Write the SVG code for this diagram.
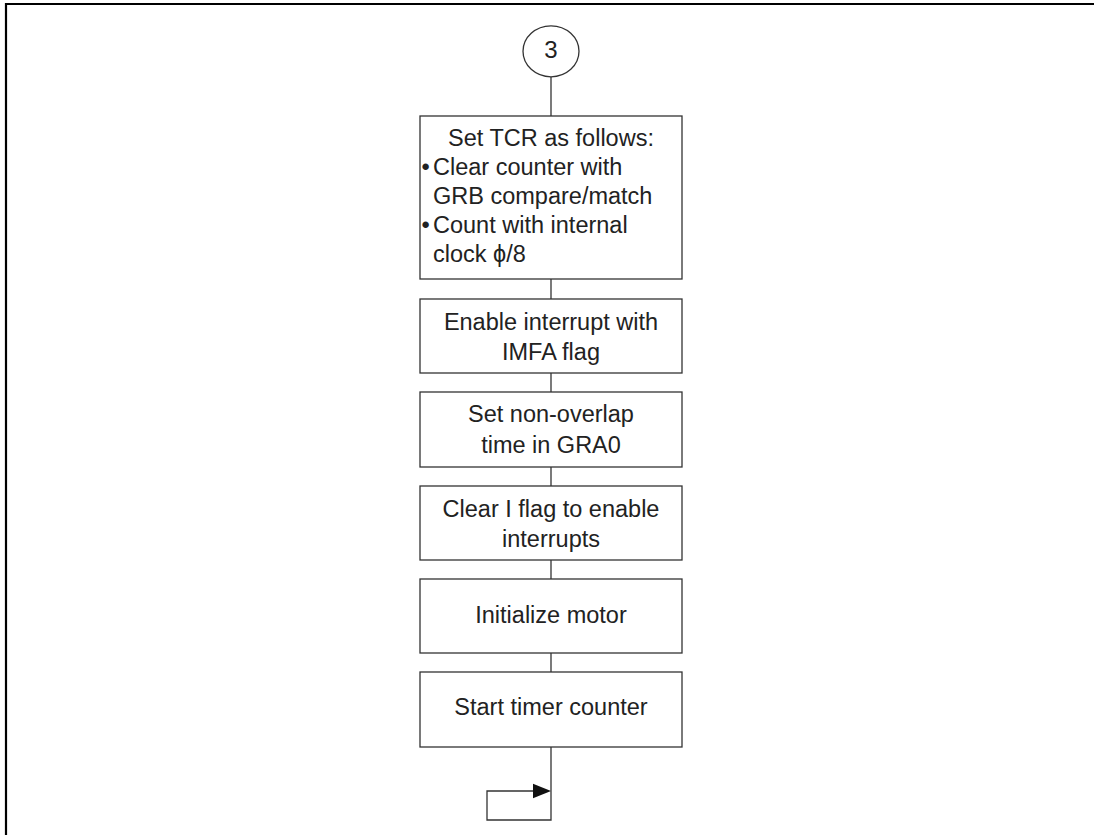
<svg xmlns="http://www.w3.org/2000/svg" width="1094" height="835" viewBox="0 0 1094 835">
  <style>
    .frame { stroke: #000; stroke-width: 2.2; fill: none; }
    .box { fill: #fff; stroke: #333; stroke-width: 1.3; }
    .wire { stroke: #333; stroke-width: 1.3; fill: none; }
    text { font-family: "Liberation Sans", Arial, sans-serif; font-size: 23.5px; fill: #222; }
    .c { text-anchor: middle; }
  </style>
  <rect width="1094" height="835" fill="#fff"/>
  <!-- page frame -->
  <path class="frame" d="M6,835 V4 H1094"/>

  <g id="connectors">
    <line class="wire" x1="551" y1="77" x2="551" y2="116"/>
    <line class="wire" x1="551" y1="279" x2="551" y2="299"/>
    <line class="wire" x1="551" y1="373" x2="551" y2="392"/>
    <line class="wire" x1="551" y1="467" x2="551" y2="486"/>
    <line class="wire" x1="551" y1="560" x2="551" y2="579"/>
    <line class="wire" x1="551" y1="653" x2="551" y2="672"/>
    <!-- endless loop -->
    <path class="wire" d="M551,747 V820 H487 V791 H534"/>
    <polygon points="533,783.7 551,791 533,798.3" fill="#111"/>
  </g>

  <g id="start">
    <ellipse cx="551" cy="51.3" rx="28" ry="25.5" class="box"/>
    <text x="551" y="58" class="c" style="font-size:24px">3</text>
  </g>

  <g id="set-tcr">
    <rect x="420" y="116" width="262" height="163" class="box"/>
    <text x="551" y="146" class="c">Set TCR as follows:</text>
    <text x="421.5" y="175">•</text>
    <text x="433" y="175">Clear counter with</text>
    <text x="433" y="204">GRB compare/match</text>
    <text x="421.5" y="233">•</text>
    <text x="433" y="233">Count with internal</text>
    <text x="433" y="262">clock ϕ/8</text>
  </g>

  <g id="enable-int">
    <rect x="420" y="299" width="262" height="74" class="box"/>
    <text x="551" y="330" class="c">Enable interrupt with</text>
    <text x="551" y="360" class="c">IMFA flag</text>
  </g>

  <g id="set-gra0">
    <rect x="420" y="392" width="262" height="75" class="box"/>
    <text x="551" y="422" class="c">Set non-overlap</text>
    <text x="551" y="453" class="c">time in GRA0</text>
  </g>

  <g id="clear-i">
    <rect x="420" y="486" width="262" height="74" class="box"/>
    <text x="551" y="517" class="c">Clear I flag to enable</text>
    <text x="551" y="547" class="c">interrupts</text>
  </g>

  <g id="init-motor">
    <rect x="420" y="579" width="262" height="74" class="box"/>
    <text x="551" y="623" class="c">Initialize motor</text>
  </g>

  <g id="start-timer">
    <rect x="420" y="672" width="262" height="75" class="box"/>
    <text x="551" y="715" class="c">Start timer counter</text>
  </g>
</svg>
